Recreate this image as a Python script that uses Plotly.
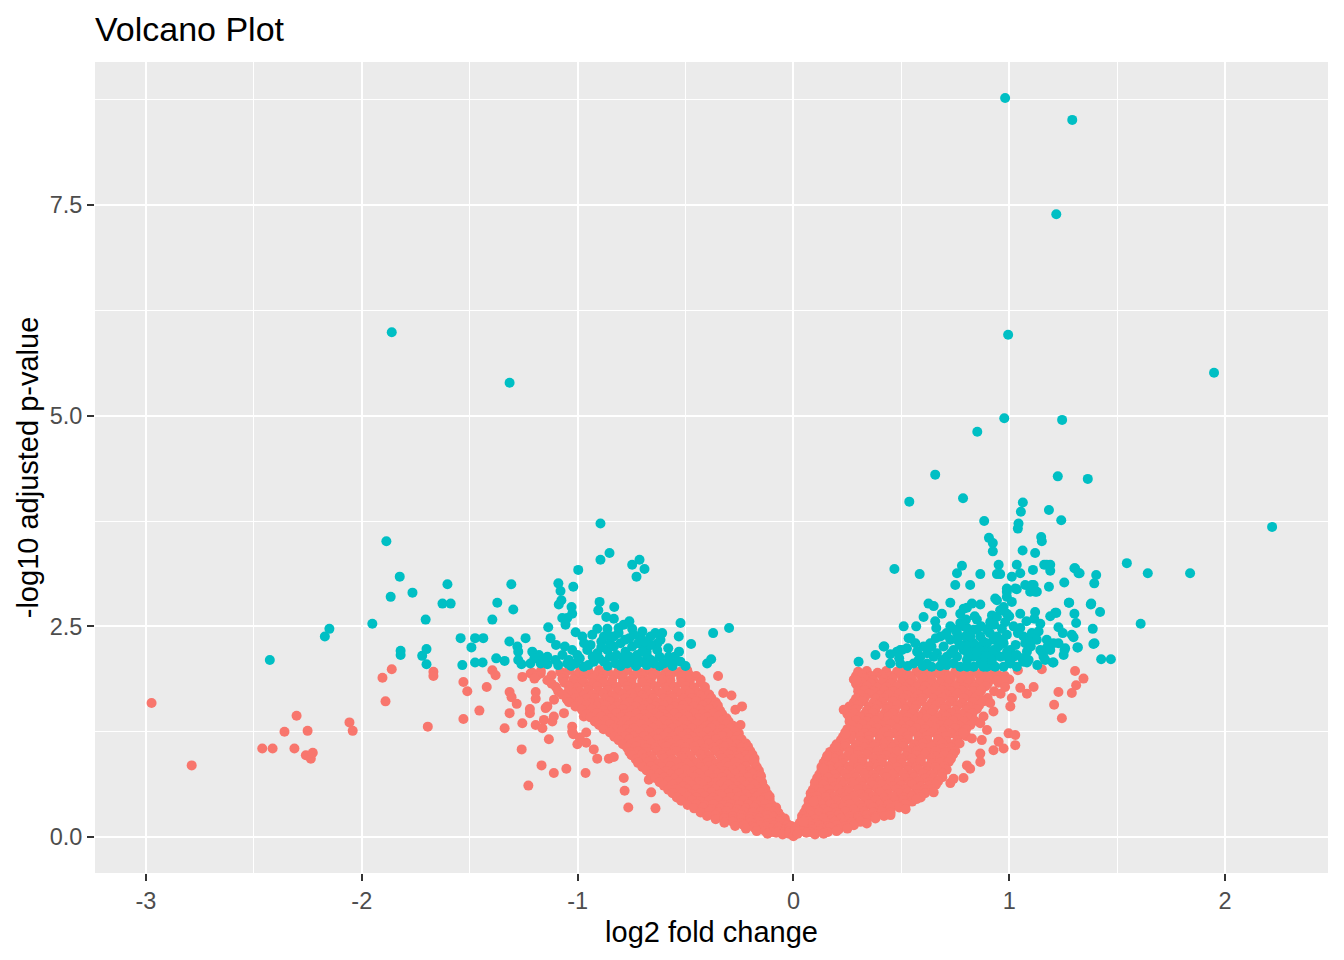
import plotly.graph_objects as go

# tick labels (ggplot prints an ascii hyphen, so the labels are given as text)
x_tick_values = [-3, -2, -1, 0, 1, 2]
x_tick_labels = ["-3", "-2", "-1", "0", "1", "2"]
y_tick_values = [0, 2.5, 5, 7.5]
y_tick_labels = ["0.0", "2.5", "5.0", "7.5"]
x_minor_values = [-2.5, -1.5, -0.5, 0.5, 1.5]
y_minor_values = [1.25, 3.75, 6.25, 8.75]

# genes with padj >= 0.01 : (log2 fold change, -log10 padj)
ns_left_outliers = [
    (-2.974, 1.59), (-2.788, 0.85), (-2.461, 1.05), (-2.413, 1.05), (-2.358, 1.25), (-2.312, 1.05),
    (-2.302, 1.44), (-2.259, 0.97), (-2.251, 1.26), (-2.236, 0.93), (-2.227, 1.00), (-2.057, 1.36),
    (-2.042, 1.26), (-1.904, 1.89), (-1.890, 1.61), (-1.861, 1.99), (-1.694, 1.31), (-1.668, 1.96),
    (-1.668, 1.91), (-1.529, 1.84), (-1.511, 1.73), (-1.529, 1.40), (-1.455, 1.50), (-1.421, 1.78),
    (-1.395, 1.98), (-1.380, 1.92), (-1.338, 1.29), (-1.315, 1.72), (-1.306, 1.66), (-1.315, 1.47),
    (-1.282, 1.58), (-1.256, 1.35), (-1.259, 1.04), (-1.256, 1.90), (-1.228, 0.61), (-1.221, 1.52),
    (-1.221, 1.47), (-1.218, 1.94), (-1.194, 1.72), (-1.194, 1.64), (-1.194, 1.33), (-1.171, 1.94),
    (-1.167, 0.85), (-1.163, 1.29), (-1.156, 1.39), (-1.148, 1.53), (-1.133, 1.16), (-1.117, 1.37),
    (-1.110, 1.43), (-1.110, 0.76), (-1.063, 1.47), (-1.052, 0.81), (-1.025, 1.31), (-1.025, 1.25),
    (-1.001, 1.10), (-0.971, 1.43), (-0.963, 0.76), (-0.960, 1.12), (-0.925, 1.52), (-0.917, 1.37),
    (-0.870, 1.43), (-0.925, 1.04), (-0.909, 0.93), (-0.855, 0.93), (-0.832, 0.95), (-0.786, 0.70),
    (-0.782, 0.55), (-0.765, 0.35), (-0.670, 0.68), (-0.659, 0.53), (-0.639, 0.34), (-0.588, 1.98),
    (-0.523, 1.96), (-0.492, 1.98), (-0.349, 1.91), (-0.325, 1.71), (-0.287, 1.68), (-0.269, 1.51),
    (-0.238, 1.55), (-0.245, 1.33), (-0.253, 1.23), (-0.261, 1.15), (-1.109, 1.63), (-1.140, 1.55),
    (-1.048, 1.63), (-0.986, 1.71), (-1.017, 1.78), (-1.020, 1.22), (-0.960, 1.24), (-0.990, 1.18),
]

ns_left_cloud = [
    (-1.21, 1.95), (-1.17, 1.97), (-1.08, 1.96), (-1.04, 1.98), (-0.99, 1.96), (-0.95, 1.97), (-0.90, 1.98),
    (-0.86, 1.96), (-0.81, 1.97), (-0.77, 1.98), (-0.72, 1.96), (-0.68, 1.97), (-0.64, 1.98), (-0.59, 1.95),
    (-0.55, 1.96), (-0.50, 1.94),
    (-1.19, 1.91), (-1.12, 1.92), (-1.06, 1.91), (-1.01, 1.92), (-0.97, 1.91), (-0.92, 1.92), (-0.88, 1.91),
    (-0.83, 1.92), (-0.79, 1.91), (-0.74, 1.92), (-0.70, 1.91), (-0.65, 1.92), (-0.61, 1.91), (-0.57, 1.92),
    (-0.52, 1.91), (-0.48, 1.92), (-0.45, 1.91),
    (-1.20, 1.88), (-1.14, 1.86), (-1.07, 1.88), (-1.02, 1.87), (-0.98, 1.86), (-0.93, 1.88), (-0.89, 1.87),
    (-0.84, 1.86), (-0.79, 1.88), (-0.75, 1.87), (-0.70, 1.86), (-0.66, 1.88), (-0.61, 1.87), (-0.57, 1.86),
    (-0.52, 1.88), (-0.48, 1.86), (-0.43, 1.87),
    (-1.12, 1.82), (-1.06, 1.83), (-1.02, 1.82), (-0.97, 1.83), (-0.93, 1.82), (-0.88, 1.83), (-0.84, 1.82),
    (-0.79, 1.83), (-0.75, 1.82), (-0.70, 1.83), (-0.66, 1.82), (-0.61, 1.83), (-0.57, 1.82), (-0.52, 1.83),
    (-0.48, 1.82), (-0.43, 1.83),
    (-1.10, 1.78), (-1.04, 1.79), (-1.00, 1.77), (-0.95, 1.78), (-0.91, 1.79), (-0.86, 1.77), (-0.82, 1.78),
    (-0.77, 1.79), (-0.73, 1.77), (-0.68, 1.78), (-0.64, 1.79), (-0.59, 1.77), (-0.55, 1.78), (-0.50, 1.79),
    (-0.46, 1.77), (-0.41, 1.78),
    (-1.09, 1.73), (-1.04, 1.74), (-0.99, 1.73), (-0.95, 1.74), (-0.90, 1.73), (-0.86, 1.74), (-0.81, 1.73),
    (-0.77, 1.74), (-0.72, 1.73), (-0.68, 1.74), (-0.63, 1.73), (-0.59, 1.74), (-0.54, 1.73), (-0.50, 1.74),
    (-0.45, 1.73), (-0.41, 1.74),
    (-1.07, 1.69), (-1.02, 1.70), (-0.97, 1.68), (-0.93, 1.69), (-0.88, 1.70), (-0.84, 1.68), (-0.79, 1.69),
    (-0.75, 1.70), (-0.70, 1.68), (-0.66, 1.69), (-0.61, 1.70), (-0.57, 1.68), (-0.52, 1.69), (-0.48, 1.70),
    (-0.43, 1.68), (-0.39, 1.69),
    (-1.05, 1.64), (-1.01, 1.65), (-0.96, 1.64), (-0.92, 1.65), (-0.87, 1.64), (-0.83, 1.65), (-0.78, 1.64),
    (-0.74, 1.65), (-0.69, 1.64), (-0.65, 1.65), (-0.60, 1.64), (-0.56, 1.65), (-0.51, 1.64), (-0.47, 1.65),
    (-0.42, 1.64), (-0.38, 1.65),
    (-1.04, 1.60), (-0.99, 1.61), (-0.94, 1.59), (-0.90, 1.60), (-0.85, 1.61), (-0.81, 1.59), (-0.76, 1.60),
    (-0.72, 1.61), (-0.67, 1.59), (-0.63, 1.60), (-0.58, 1.61), (-0.54, 1.59), (-0.49, 1.60), (-0.45, 1.61),
    (-0.40, 1.59), (-0.36, 1.60),
    (-1.01, 1.55), (-0.96, 1.56), (-0.91, 1.55), (-0.87, 1.56), (-0.82, 1.55), (-0.78, 1.56), (-0.73, 1.55),
    (-0.69, 1.56), (-0.64, 1.55), (-0.60, 1.56), (-0.55, 1.55), (-0.51, 1.56), (-0.46, 1.55), (-0.42, 1.56),
    (-0.37, 1.55), (-0.35, 1.56),
    (-0.98, 1.51), (-0.93, 1.52), (-0.88, 1.50), (-0.84, 1.51), (-0.79, 1.52), (-0.75, 1.50), (-0.70, 1.51),
    (-0.66, 1.52), (-0.61, 1.50), (-0.57, 1.51), (-0.52, 1.52), (-0.48, 1.50), (-0.43, 1.51), (-0.39, 1.52),
    (-0.34, 1.50),
    (-0.96, 1.46), (-0.91, 1.47), (-0.87, 1.46), (-0.82, 1.47), (-0.78, 1.46), (-0.73, 1.47), (-0.69, 1.46),
    (-0.64, 1.47), (-0.60, 1.46), (-0.55, 1.47), (-0.51, 1.46), (-0.46, 1.47), (-0.42, 1.46), (-0.37, 1.47),
    (-0.33, 1.46),
    (-0.94, 1.42), (-0.89, 1.43), (-0.85, 1.41), (-0.80, 1.42), (-0.76, 1.43), (-0.71, 1.41), (-0.67, 1.42),
    (-0.62, 1.43), (-0.58, 1.41), (-0.53, 1.42), (-0.49, 1.43), (-0.44, 1.41), (-0.40, 1.42), (-0.35, 1.43),
    (-0.31, 1.41),
    (-0.92, 1.37), (-0.87, 1.38), (-0.83, 1.37), (-0.78, 1.38), (-0.74, 1.37), (-0.69, 1.38), (-0.65, 1.37),
    (-0.60, 1.38), (-0.56, 1.37), (-0.51, 1.38), (-0.47, 1.37), (-0.42, 1.38), (-0.38, 1.37), (-0.33, 1.38),
    (-0.30, 1.37),
    (-0.90, 1.33), (-0.85, 1.34), (-0.80, 1.32), (-0.76, 1.33), (-0.71, 1.34), (-0.67, 1.32), (-0.63, 1.33),
    (-0.58, 1.34), (-0.54, 1.32), (-0.49, 1.33), (-0.45, 1.34), (-0.40, 1.32), (-0.36, 1.33), (-0.31, 1.34),
    (-0.28, 1.32),
    (-0.88, 1.28), (-0.83, 1.29), (-0.78, 1.28), (-0.74, 1.29), (-0.69, 1.28), (-0.65, 1.29), (-0.60, 1.28),
    (-0.56, 1.29), (-0.51, 1.28), (-0.47, 1.29), (-0.42, 1.28), (-0.38, 1.29), (-0.33, 1.28), (-0.29, 1.29),
    (-0.85, 1.24), (-0.80, 1.25), (-0.76, 1.23), (-0.71, 1.24), (-0.67, 1.25), (-0.62, 1.23), (-0.58, 1.24),
    (-0.53, 1.25), (-0.49, 1.23), (-0.44, 1.24), (-0.40, 1.25), (-0.35, 1.23), (-0.31, 1.24), (-0.27, 1.25),
    (-0.83, 1.19), (-0.78, 1.20), (-0.74, 1.19), (-0.69, 1.20), (-0.65, 1.19), (-0.60, 1.20), (-0.56, 1.19),
    (-0.51, 1.20), (-0.47, 1.19), (-0.42, 1.20), (-0.38, 1.19), (-0.33, 1.20), (-0.29, 1.19), (-0.26, 1.20),
    (-0.81, 1.15), (-0.76, 1.16), (-0.72, 1.14), (-0.67, 1.15), (-0.63, 1.16), (-0.58, 1.14), (-0.54, 1.15),
    (-0.49, 1.16), (-0.45, 1.14), (-0.40, 1.15), (-0.36, 1.16), (-0.31, 1.14), (-0.27, 1.15), (-0.24, 1.16),
    (-0.79, 1.10), (-0.75, 1.11), (-0.70, 1.10), (-0.66, 1.11), (-0.61, 1.10), (-0.57, 1.11), (-0.52, 1.10),
    (-0.48, 1.11), (-0.43, 1.10), (-0.39, 1.11), (-0.34, 1.10), (-0.30, 1.11), (-0.26, 1.10), (-0.22, 1.11),
    (-0.77, 1.06), (-0.73, 1.07), (-0.68, 1.05), (-0.64, 1.06), (-0.59, 1.07), (-0.55, 1.05), (-0.50, 1.06),
    (-0.46, 1.07), (-0.41, 1.05), (-0.37, 1.06), (-0.32, 1.07), (-0.28, 1.05), (-0.24, 1.06), (-0.21, 1.07),
    (-0.76, 1.01), (-0.72, 1.02), (-0.68, 1.01), (-0.63, 1.02), (-0.59, 1.01), (-0.54, 1.02), (-0.50, 1.01),
    (-0.45, 1.02), (-0.41, 1.01), (-0.36, 1.02), (-0.32, 1.01), (-0.28, 1.02), (-0.24, 1.01), (-0.20, 1.02),
    (-0.75, 0.97), (-0.70, 0.98), (-0.66, 0.96), (-0.61, 0.97), (-0.57, 0.98), (-0.52, 0.96), (-0.48, 0.97),
    (-0.43, 0.98), (-0.39, 0.96), (-0.34, 0.97), (-0.30, 0.98), (-0.26, 0.96), (-0.22, 0.97), (-0.19, 0.98),
    (-0.73, 0.92), (-0.69, 0.93), (-0.65, 0.92), (-0.60, 0.93), (-0.56, 0.92), (-0.51, 0.93), (-0.47, 0.92),
    (-0.42, 0.93), (-0.38, 0.92), (-0.33, 0.93), (-0.29, 0.92), (-0.25, 0.93), (-0.21, 0.92), (-0.18, 0.93),
    (-0.72, 0.88), (-0.67, 0.89), (-0.63, 0.87), (-0.58, 0.88), (-0.54, 0.89), (-0.49, 0.87), (-0.45, 0.88),
    (-0.40, 0.89), (-0.36, 0.87), (-0.31, 0.88), (-0.27, 0.89), (-0.23, 0.87), (-0.18, 0.88),
    (-0.70, 0.83), (-0.66, 0.84), (-0.61, 0.83), (-0.57, 0.84), (-0.52, 0.83), (-0.48, 0.84), (-0.43, 0.83),
    (-0.39, 0.84), (-0.34, 0.83), (-0.30, 0.84), (-0.26, 0.83), (-0.22, 0.84), (-0.17, 0.83),
    (-0.68, 0.79), (-0.64, 0.80), (-0.59, 0.78), (-0.55, 0.79), (-0.50, 0.80), (-0.46, 0.78), (-0.41, 0.79),
    (-0.37, 0.80), (-0.32, 0.78), (-0.28, 0.79), (-0.24, 0.80), (-0.20, 0.78), (-0.16, 0.79),
    (-0.66, 0.74), (-0.62, 0.75), (-0.57, 0.74), (-0.53, 0.75), (-0.48, 0.74), (-0.44, 0.75), (-0.39, 0.74),
    (-0.35, 0.75), (-0.31, 0.74), (-0.27, 0.75), (-0.23, 0.74), (-0.19, 0.75), (-0.155, 0.74),
    (-0.64, 0.70), (-0.60, 0.71), (-0.55, 0.69), (-0.51, 0.70), (-0.46, 0.71), (-0.42, 0.69), (-0.37, 0.70),
    (-0.33, 0.71), (-0.29, 0.69), (-0.25, 0.70), (-0.21, 0.71), (-0.17, 0.69), (-0.15, 0.72),
    (-0.62, 0.65), (-0.58, 0.66), (-0.53, 0.65), (-0.49, 0.66), (-0.44, 0.65), (-0.40, 0.66), (-0.36, 0.65),
    (-0.32, 0.66), (-0.28, 0.65), (-0.24, 0.66), (-0.20, 0.65), (-0.16, 0.66), (-0.145, 0.65),
    (-0.60, 0.61), (-0.56, 0.62), (-0.51, 0.60), (-0.47, 0.61), (-0.42, 0.62), (-0.38, 0.60), (-0.34, 0.61),
    (-0.30, 0.62), (-0.26, 0.60), (-0.22, 0.61), (-0.18, 0.62), (-0.14, 0.60),
    (-0.58, 0.56), (-0.54, 0.57), (-0.49, 0.56), (-0.45, 0.57), (-0.40, 0.56), (-0.36, 0.57), (-0.32, 0.56),
    (-0.28, 0.57), (-0.24, 0.56), (-0.20, 0.57), (-0.16, 0.56), (-0.13, 0.57),
    (-0.56, 0.52), (-0.51, 0.53), (-0.47, 0.51), (-0.43, 0.52), (-0.38, 0.53), (-0.34, 0.51), (-0.30, 0.52),
    (-0.26, 0.53), (-0.22, 0.51), (-0.18, 0.52), (-0.15, 0.53), (-0.12, 0.51),
    (-0.54, 0.47), (-0.49, 0.48), (-0.45, 0.47), (-0.41, 0.48), (-0.37, 0.47), (-0.33, 0.48), (-0.29, 0.47),
    (-0.25, 0.48), (-0.21, 0.47), (-0.17, 0.48), (-0.13, 0.47), (-0.11, 0.48),
    (-0.52, 0.43), (-0.47, 0.44), (-0.43, 0.42), (-0.39, 0.43), (-0.35, 0.44), (-0.31, 0.42), (-0.27, 0.43),
    (-0.23, 0.44), (-0.19, 0.42), (-0.15, 0.43), (-0.11, 0.44),
    (-0.49, 0.38), (-0.45, 0.39), (-0.41, 0.38), (-0.37, 0.39), (-0.33, 0.38), (-0.29, 0.39), (-0.25, 0.38),
    (-0.21, 0.39), (-0.17, 0.38), (-0.13, 0.39), (-0.10, 0.38),
    (-0.46, 0.34), (-0.42, 0.35), (-0.38, 0.33), (-0.34, 0.34), (-0.30, 0.35), (-0.26, 0.33), (-0.22, 0.34),
    (-0.18, 0.35), (-0.14, 0.33), (-0.11, 0.34), (-0.08, 0.35),
    (-0.43, 0.29), (-0.39, 0.30), (-0.35, 0.29), (-0.31, 0.30), (-0.27, 0.29), (-0.23, 0.30), (-0.19, 0.29),
    (-0.15, 0.30), (-0.12, 0.29), (-0.09, 0.30), (-0.07, 0.29),
    (-0.40, 0.25), (-0.36, 0.26), (-0.32, 0.24), (-0.28, 0.25), (-0.24, 0.26), (-0.20, 0.24), (-0.16, 0.25),
    (-0.12, 0.26), (-0.09, 0.24), (-0.06, 0.25),
    (-0.36, 0.21), (-0.32, 0.22), (-0.28, 0.21), (-0.24, 0.22), (-0.20, 0.21), (-0.16, 0.22), (-0.12, 0.21),
    (-0.09, 0.22), (-0.06, 0.21), (-0.04, 0.22),
    (-0.32, 0.17), (-0.28, 0.18), (-0.24, 0.16), (-0.20, 0.17), (-0.16, 0.18), (-0.12, 0.16), (-0.09, 0.17),
    (-0.06, 0.18), (-0.03, 0.16),
    (-0.27, 0.13), (-0.23, 0.14), (-0.19, 0.13), (-0.16, 0.14), (-0.12, 0.13), (-0.09, 0.14), (-0.06, 0.13),
    (-0.03, 0.14), (-0.01, 0.13),
    (-0.22, 0.10), (-0.18, 0.11), (-0.14, 0.09), (-0.10, 0.10), (-0.07, 0.11), (-0.04, 0.09), (-0.02, 0.10),
    (-0.17, 0.07), (-0.13, 0.07), (-0.10, 0.06), (-0.07, 0.07), (-0.04, 0.06), (-0.02, 0.07), (0.00, 0.06),
    (-0.12, 0.04), (-0.08, 0.05), (-0.05, 0.03), (-0.02, 0.04), (0.00, 0.01),
]

ns_right_cloud = [
    (0.30, 1.96), (0.34, 1.97), (0.39, 1.95), (0.43, 1.97), (0.48, 1.96), (0.52, 1.98), (0.57, 1.96),
    (0.61, 1.97), (0.66, 1.95), (0.70, 1.97), (0.75, 1.96), (0.79, 1.98), (0.84, 1.96), (0.88, 1.97),
    (0.93, 1.95),
    (0.29, 1.91), (0.32, 1.92), (0.36, 1.91), (0.41, 1.92), (0.45, 1.91), (0.50, 1.92), (0.54, 1.91),
    (0.59, 1.92), (0.63, 1.91), (0.68, 1.92), (0.72, 1.91), (0.77, 1.92), (0.81, 1.91), (0.86, 1.92),
    (0.90, 1.91), (0.95, 1.92), (0.98, 1.91),
    (0.28, 1.87), (0.33, 1.88), (0.37, 1.86), (0.42, 1.87), (0.46, 1.88), (0.51, 1.86), (0.55, 1.87),
    (0.60, 1.88), (0.64, 1.86), (0.69, 1.87), (0.73, 1.88), (0.78, 1.86), (0.82, 1.87), (0.87, 1.88),
    (0.91, 1.86), (1.00, 1.87),
    (0.29, 1.82), (0.32, 1.83), (0.36, 1.82), (0.41, 1.83), (0.45, 1.82), (0.50, 1.83), (0.54, 1.82),
    (0.59, 1.83), (0.63, 1.82), (0.68, 1.83), (0.72, 1.82), (0.77, 1.83), (0.81, 1.82), (0.86, 1.83),
    (0.90, 1.82), (0.95, 1.83),
    (0.30, 1.78), (0.34, 1.79), (0.39, 1.77), (0.43, 1.78), (0.48, 1.79), (0.52, 1.77), (0.57, 1.78),
    (0.61, 1.79), (0.66, 1.77), (0.70, 1.78), (0.75, 1.79), (0.79, 1.77), (0.84, 1.78), (0.89, 1.79),
    (0.30, 1.73), (0.33, 1.74), (0.37, 1.73), (0.42, 1.74), (0.46, 1.73), (0.51, 1.74), (0.55, 1.73),
    (0.60, 1.74), (0.64, 1.73), (0.69, 1.74), (0.73, 1.73), (0.78, 1.74), (0.83, 1.73), (0.87, 1.74),
    (0.93, 1.73),
    (0.31, 1.69), (0.35, 1.70), (0.40, 1.68), (0.44, 1.69), (0.49, 1.70), (0.53, 1.68), (0.58, 1.69),
    (0.62, 1.70), (0.67, 1.68), (0.71, 1.69), (0.76, 1.70), (0.81, 1.68), (0.86, 1.69), (0.96, 1.70),
    (0.29, 1.64), (0.33, 1.65), (0.38, 1.64), (0.42, 1.65), (0.47, 1.64), (0.51, 1.65), (0.56, 1.64),
    (0.60, 1.65), (0.65, 1.64), (0.69, 1.65), (0.74, 1.64), (0.79, 1.65), (0.84, 1.64), (0.90, 1.65),
    (0.28, 1.60), (0.32, 1.61), (0.37, 1.59), (0.41, 1.60), (0.46, 1.61), (0.50, 1.59), (0.55, 1.60),
    (0.59, 1.61), (0.64, 1.59), (0.68, 1.60), (0.73, 1.61), (0.78, 1.59), (0.83, 1.60), (0.88, 1.61),
    (0.26, 1.55), (0.30, 1.56), (0.35, 1.55), (0.39, 1.56), (0.44, 1.55), (0.48, 1.56), (0.53, 1.55),
    (0.57, 1.56), (0.62, 1.55), (0.66, 1.56), (0.71, 1.55), (0.76, 1.56), (0.81, 1.55), (0.86, 1.56),
    (0.25, 1.51), (0.29, 1.52), (0.34, 1.50), (0.38, 1.51), (0.43, 1.52), (0.47, 1.50), (0.52, 1.51),
    (0.56, 1.52), (0.61, 1.50), (0.65, 1.51), (0.70, 1.52), (0.75, 1.50), (0.80, 1.51), (0.85, 1.52),
    (0.25, 1.46), (0.28, 1.47), (0.33, 1.46), (0.37, 1.47), (0.42, 1.46), (0.46, 1.47), (0.51, 1.46),
    (0.55, 1.47), (0.60, 1.46), (0.64, 1.47), (0.69, 1.46), (0.73, 1.47), (0.78, 1.46), (0.83, 1.47),
    (0.26, 1.42), (0.31, 1.43), (0.35, 1.41), (0.40, 1.42), (0.44, 1.43), (0.49, 1.41), (0.53, 1.42),
    (0.58, 1.43), (0.62, 1.41), (0.67, 1.42), (0.71, 1.43), (0.76, 1.41), (0.81, 1.42),
    (0.26, 1.37), (0.29, 1.38), (0.34, 1.37), (0.38, 1.38), (0.43, 1.37), (0.47, 1.38), (0.52, 1.37),
    (0.56, 1.38), (0.61, 1.37), (0.65, 1.38), (0.70, 1.37), (0.74, 1.38), (0.79, 1.37), (0.84, 1.38),
    (0.27, 1.33), (0.32, 1.34), (0.36, 1.32), (0.41, 1.33), (0.45, 1.34), (0.50, 1.32), (0.54, 1.33),
    (0.59, 1.34), (0.63, 1.32), (0.68, 1.33), (0.72, 1.34), (0.77, 1.32), (0.82, 1.33),
    (0.25, 1.28), (0.30, 1.29), (0.34, 1.28), (0.39, 1.29), (0.43, 1.28), (0.48, 1.29), (0.52, 1.28),
    (0.57, 1.29), (0.61, 1.28), (0.66, 1.29), (0.70, 1.28), (0.75, 1.29), (0.80, 1.28),
    (0.24, 1.24), (0.28, 1.25), (0.33, 1.23), (0.37, 1.24), (0.42, 1.25), (0.46, 1.23), (0.51, 1.24),
    (0.55, 1.25), (0.60, 1.23), (0.64, 1.24), (0.69, 1.25), (0.73, 1.23), (0.78, 1.24),
    (0.23, 1.19), (0.27, 1.20), (0.31, 1.19), (0.35, 1.20), (0.40, 1.19), (0.44, 1.20), (0.49, 1.19),
    (0.53, 1.20), (0.58, 1.19), (0.62, 1.20), (0.67, 1.19), (0.71, 1.20), (0.76, 1.19), (0.80, 1.20),
    (0.22, 1.15), (0.26, 1.16), (0.31, 1.14), (0.35, 1.15), (0.40, 1.16), (0.44, 1.14), (0.49, 1.15),
    (0.53, 1.16), (0.58, 1.14), (0.62, 1.15), (0.67, 1.16), (0.71, 1.14), (0.76, 1.15),
    (0.20, 1.10), (0.24, 1.11), (0.29, 1.10), (0.33, 1.11), (0.38, 1.10), (0.42, 1.11), (0.47, 1.10),
    (0.51, 1.11), (0.56, 1.10), (0.60, 1.11), (0.65, 1.10), (0.69, 1.11), (0.74, 1.10), (0.77, 1.11),
    (0.19, 1.06), (0.24, 1.07), (0.28, 1.05), (0.33, 1.06), (0.37, 1.07), (0.42, 1.05), (0.46, 1.06),
    (0.51, 1.07), (0.55, 1.05), (0.60, 1.06), (0.64, 1.07), (0.69, 1.05), (0.73, 1.06),
    (0.17, 1.01), (0.21, 1.02), (0.26, 1.01), (0.30, 1.02), (0.35, 1.01), (0.39, 1.02), (0.44, 1.01),
    (0.48, 1.02), (0.53, 1.01), (0.57, 1.02), (0.62, 1.01), (0.66, 1.02), (0.71, 1.01), (0.75, 1.02),
    (0.16, 0.97), (0.21, 0.98), (0.25, 0.96), (0.30, 0.97), (0.34, 0.98), (0.39, 0.96), (0.43, 0.97),
    (0.48, 0.98), (0.52, 0.96), (0.57, 0.97), (0.61, 0.98), (0.66, 0.96), (0.70, 0.97), (0.74, 0.98),
    (0.15, 0.92), (0.19, 0.93), (0.23, 0.92), (0.28, 0.93), (0.32, 0.92), (0.37, 0.93), (0.41, 0.92),
    (0.46, 0.93), (0.50, 0.92), (0.55, 0.93), (0.59, 0.92), (0.64, 0.93), (0.68, 0.92), (0.73, 0.93),
    (0.14, 0.88), (0.19, 0.89), (0.23, 0.87), (0.28, 0.88), (0.32, 0.89), (0.37, 0.87), (0.41, 0.88),
    (0.46, 0.89), (0.50, 0.87), (0.55, 0.88), (0.59, 0.89), (0.64, 0.87), (0.68, 0.88), (0.72, 0.89),
    (0.13, 0.83), (0.17, 0.84), (0.21, 0.83), (0.26, 0.84), (0.30, 0.83), (0.35, 0.84), (0.39, 0.83),
    (0.44, 0.84), (0.48, 0.83), (0.53, 0.84), (0.57, 0.83), (0.62, 0.84), (0.66, 0.83), (0.70, 0.84),
    (0.13, 0.79), (0.17, 0.80), (0.22, 0.78), (0.26, 0.79), (0.31, 0.80), (0.35, 0.78), (0.40, 0.79),
    (0.44, 0.80), (0.49, 0.78), (0.53, 0.79), (0.58, 0.80), (0.62, 0.78), (0.67, 0.79), (0.71, 0.80),
    (0.12, 0.74), (0.15, 0.75), (0.19, 0.74), (0.24, 0.75), (0.28, 0.74), (0.33, 0.75), (0.37, 0.74),
    (0.42, 0.75), (0.46, 0.74), (0.51, 0.75), (0.55, 0.74), (0.60, 0.75), (0.64, 0.74), (0.69, 0.75),
    (0.11, 0.70), (0.16, 0.71), (0.20, 0.69), (0.25, 0.70), (0.29, 0.71), (0.34, 0.69), (0.38, 0.70),
    (0.43, 0.71), (0.47, 0.69), (0.52, 0.70), (0.56, 0.71), (0.61, 0.69), (0.65, 0.70), (0.69, 0.71),
    (0.10, 0.65), (0.14, 0.66), (0.18, 0.65), (0.22, 0.66), (0.27, 0.65), (0.31, 0.66), (0.36, 0.65),
    (0.40, 0.66), (0.45, 0.65), (0.49, 0.66), (0.54, 0.65), (0.58, 0.66), (0.63, 0.65), (0.67, 0.66),
    (0.10, 0.61), (0.14, 0.62), (0.19, 0.60), (0.23, 0.61), (0.28, 0.62), (0.32, 0.60), (0.37, 0.61),
    (0.41, 0.62), (0.46, 0.60), (0.50, 0.61), (0.55, 0.62), (0.59, 0.60), (0.63, 0.61), (0.66, 0.62),
    (0.09, 0.56), (0.12, 0.57), (0.16, 0.56), (0.21, 0.57), (0.25, 0.56), (0.30, 0.57), (0.34, 0.56),
    (0.39, 0.57), (0.43, 0.56), (0.48, 0.57), (0.52, 0.56), (0.57, 0.57), (0.61, 0.56), (0.64, 0.57),
    (0.08, 0.52), (0.13, 0.53), (0.17, 0.51), (0.22, 0.52), (0.26, 0.53), (0.31, 0.51), (0.35, 0.52),
    (0.40, 0.53), (0.44, 0.51), (0.49, 0.52), (0.53, 0.53), (0.57, 0.51), (0.61, 0.52), (0.65, 0.53),
    (0.08, 0.47), (0.11, 0.48), (0.15, 0.47), (0.19, 0.48), (0.24, 0.47), (0.28, 0.48), (0.33, 0.47),
    (0.37, 0.48), (0.42, 0.47), (0.46, 0.48), (0.51, 0.47), (0.55, 0.48), (0.59, 0.47),
    (0.07, 0.43), (0.11, 0.44), (0.16, 0.42), (0.20, 0.43), (0.25, 0.44), (0.29, 0.42), (0.34, 0.43),
    (0.38, 0.44), (0.43, 0.42), (0.47, 0.43), (0.51, 0.44), (0.55, 0.42), (0.57, 0.45),
    (0.07, 0.38), (0.09, 0.39), (0.13, 0.38), (0.17, 0.39), (0.22, 0.38), (0.26, 0.39), (0.31, 0.38),
    (0.35, 0.39), (0.40, 0.38), (0.44, 0.39), (0.48, 0.38), (0.52, 0.39),
    (0.06, 0.34), (0.10, 0.35), (0.14, 0.33), (0.19, 0.34), (0.23, 0.35), (0.28, 0.33), (0.32, 0.34),
    (0.37, 0.35), (0.41, 0.33), (0.45, 0.34), (0.49, 0.35), (0.52, 0.33),
    (0.05, 0.29), (0.08, 0.30), (0.12, 0.29), (0.16, 0.30), (0.20, 0.29), (0.24, 0.30), (0.29, 0.29),
    (0.33, 0.30), (0.37, 0.29), (0.41, 0.30), (0.45, 0.29),
    (0.04, 0.25), (0.08, 0.26), (0.12, 0.24), (0.17, 0.25), (0.21, 0.26), (0.26, 0.24), (0.30, 0.25),
    (0.34, 0.26), (0.38, 0.24), (0.42, 0.25), (0.45, 0.26),
    (0.04, 0.21), (0.06, 0.22), (0.10, 0.21), (0.14, 0.22), (0.18, 0.21), (0.22, 0.22), (0.26, 0.21),
    (0.30, 0.22), (0.34, 0.21), (0.38, 0.22),
    (0.03, 0.17), (0.07, 0.18), (0.11, 0.16), (0.15, 0.17), (0.19, 0.18), (0.23, 0.16), (0.27, 0.17),
    (0.31, 0.18), (0.34, 0.16),
    (0.02, 0.13), (0.04, 0.14), (0.08, 0.13), (0.12, 0.14), (0.16, 0.13), (0.20, 0.14), (0.24, 0.13),
    (0.28, 0.14),
    (0.01, 0.10), (0.05, 0.11), (0.09, 0.09), (0.13, 0.10), (0.17, 0.11), (0.21, 0.09), (0.25, 0.10),
    (0.01, 0.07), (0.04, 0.07), (0.08, 0.06), (0.12, 0.07), (0.16, 0.06), (0.20, 0.07),
    (0.02, 0.04), (0.06, 0.05), (0.10, 0.03), (0.14, 0.04),
]

ns_right_outliers = [
    (0.292, 1.86), (0.233, 1.51), (0.241, 1.22), (0.197, 1.07), (0.156, 0.96), (0.140, 0.81),
    (0.094, 0.42), (0.048, 0.18), (0.727, 0.64), (0.788, 0.70), (0.804, 0.85), (0.866, 0.99),
    (0.866, 0.89), (0.819, 0.81), (0.742, 0.69), (0.951, 1.13), (0.997, 1.23), (1.028, 1.21),
    (1.028, 1.09), (0.974, 1.05), (0.927, 1.03), (0.788, 1.23), (0.827, 1.17), (0.873, 1.15),
    (1.244, 1.41), (1.208, 1.57), (1.228, 1.72), (1.290, 1.71), (1.310, 1.80), (1.344, 1.88),
    (1.305, 1.97), (1.151, 1.99), (1.113, 1.78), (1.082, 1.70), (1.051, 1.77), (1.040, 1.98),
    (1.012, 1.65), (1.005, 1.55), (0.912, 1.59), (0.927, 1.49), (0.881, 1.43), (0.866, 1.35),
    (0.897, 1.27), (0.974, 1.86), (0.981, 1.78), (0.943, 1.86),
]

# genes with padj < 0.01
sig_left = [
    (-2.426, 2.10), (-2.171, 2.38), (-2.150, 2.47), (-1.951, 2.53), (-1.886, 3.51), (-1.866, 2.85),
    (-1.824, 3.09), (-1.820, 2.21), (-1.820, 2.16), (-1.765, 2.90), (-1.704, 2.58), (-1.700, 2.23),
    (-1.720, 2.15), (-1.700, 2.05), (-1.603, 3.00), (-1.626, 2.77), (-1.588, 2.77), (-1.861, 5.99),
    (-1.315, 5.39), (-1.542, 2.36), (-1.475, 2.36), (-1.437, 2.36), (-1.492, 2.25), (-1.534, 2.04),
    (-1.475, 2.07), (-1.440, 2.07), (-1.372, 2.78), (-1.307, 3.00), (-1.298, 2.70), (-1.395, 2.58),
    (-1.377, 2.12), (-1.338, 2.09), (-1.316, 2.32), (-1.279, 2.26), (-1.275, 2.20), (-1.275, 2.10),
    (-1.241, 2.36), (-1.219, 2.06), (-1.210, 2.20), (-1.179, 2.16), (-1.171, 2.06), (-1.136, 2.49),
    (-1.125, 2.36), (-1.089, 3.01), (-1.079, 2.92), (-1.075, 2.81), (-1.087, 2.76), (-1.020, 2.97),
    (-0.997, 3.17), (-1.028, 2.73), (-1.025, 2.65), (-1.071, 2.60), (-1.056, 2.52), (-1.048, 2.60),
    (-1.009, 2.43), (-0.978, 2.38), (-1.059, 2.26), (-1.025, 2.22), (-1.001, 2.16), (-1.102, 2.10),
    (-1.140, 2.05), (-1.048, 2.06), (-1.009, 2.06), (-0.971, 2.02), (-0.894, 3.72), (-0.852, 3.37),
    (-0.894, 3.29), (-0.747, 3.23), (-0.713, 3.29), (-0.690, 3.18), (-0.727, 3.09), (-0.898, 2.79),
    (-0.904, 2.69), (-0.830, 2.73), (-0.867, 2.61), (-0.832, 2.59), (-0.909, 2.47), (-0.862, 2.47),
    (-0.932, 2.40), (-0.878, 2.38), (-0.832, 2.38), (-0.786, 2.52), (-0.747, 2.47), (-0.708, 2.38),
    (-0.662, 2.38), (-0.801, 2.30), (-0.747, 2.26), (-0.693, 2.26), (-0.955, 2.22), (-0.909, 2.18),
    (-0.862, 2.22), (-0.832, 2.26), (-0.778, 2.20), (-0.724, 2.16), (-0.677, 2.14), (-0.631, 2.22),
    (-0.608, 2.42), (-0.616, 2.34), (-0.577, 2.14), (-0.925, 2.08), (-0.878, 2.08), (-0.824, 2.06),
    (-0.770, 2.06), (-0.708, 2.08), (-0.647, 2.06), (-0.600, 2.06), (-0.554, 2.08), (-0.523, 2.08),
    (-0.531, 2.38), (-0.523, 2.54), (-0.474, 2.29), (-0.372, 2.42), (-0.298, 2.48), (-0.400, 2.06),
    (-0.381, 2.11), (-0.890, 2.32), (-0.850, 2.14), (-0.810, 2.42), (-0.760, 2.36), (-0.720, 2.30),
    (-0.680, 2.20), (-0.790, 2.12), (-0.740, 2.10), (-0.940, 2.28), (-0.990, 2.12), (-0.660, 2.10),
    (-0.700, 2.44), (-0.760, 2.56), (-0.630, 2.30), (-0.580, 2.24), (-1.140, 2.14), (-1.100, 2.28),
    (-1.200, 2.12), (-0.950, 2.04), (-0.860, 2.03), (-0.800, 2.03), (-0.730, 2.03), (-0.680, 2.04),
    (-0.620, 2.03), (-0.560, 2.03), (-0.500, 2.03), (-1.030, 2.03), (-1.090, 2.04), (-1.160, 2.10),
    (-1.260, 2.05), (-0.970, 2.30), (-0.930, 2.14), (-0.890, 2.25), (-0.850, 2.30), (-0.820, 2.16),
    (-0.780, 2.34), (-0.740, 2.40), (-0.700, 2.20), (-0.660, 2.28), (-0.620, 2.14), (-0.580, 2.08),
    (-0.810, 2.48), (-0.860, 2.40), (-0.900, 2.12), (-0.760, 2.14), (-0.720, 2.06), (-0.640, 2.42),
    (-0.690, 2.32), (-1.040, 2.10), (-1.070, 2.16), (-0.550, 2.14), (-0.530, 2.20),
]

sig_right = [
    (0.981, 8.77), (1.292, 8.51), (1.218, 7.39), (0.995, 5.96), (0.977, 4.97), (1.245, 4.95),
    (0.852, 4.81), (1.949, 5.51), (2.218, 3.68), (0.657, 4.30), (0.537, 3.98), (0.786, 4.02),
    (1.225, 4.28), (1.364, 4.25), (1.063, 3.97), (1.054, 3.86), (1.184, 3.88), (1.241, 3.76),
    (0.884, 3.75), (1.043, 3.72), (1.040, 3.66), (0.906, 3.55), (0.924, 3.49), (0.924, 3.39),
    (1.148, 3.56), (1.151, 3.51), (1.062, 3.40), (1.120, 3.37), (0.468, 3.18), (0.585, 3.12),
    (0.781, 3.22), (0.758, 3.13), (0.750, 2.99), (0.819, 2.99), (0.866, 3.12), (0.951, 3.23),
    (0.943, 3.12), (0.958, 3.12), (1.035, 3.23), (1.012, 3.09), (1.051, 3.13), (1.110, 3.17),
    (1.162, 3.23), (1.190, 3.23), (1.190, 3.16), (1.302, 3.19), (1.321, 3.13), (1.403, 3.11),
    (1.394, 3.01), (1.255, 3.02), (1.184, 2.97), (1.113, 2.99), (1.097, 2.91), (1.128, 2.91),
    (1.035, 2.94), (0.989, 2.95), (0.989, 2.85), (1.012, 2.79), (0.943, 2.81), (1.276, 2.78),
    (1.378, 2.76), (1.421, 2.67), (1.302, 2.65), (1.310, 2.54), (1.213, 2.66), (1.190, 2.62),
    (1.120, 2.67), (1.116, 2.59), (1.144, 2.53), (1.051, 2.65), (1.228, 2.49), (1.248, 2.42),
    (1.290, 2.40), (1.387, 2.47), (1.395, 2.30), (1.316, 2.25), (1.426, 2.11), (1.471, 2.11),
    (1.228, 2.30), (1.256, 2.22), (1.252, 2.16), (1.174, 2.24), (1.151, 2.20), (1.205, 2.07),
    (1.167, 2.10), (1.082, 2.07), (1.035, 2.16), (0.997, 2.12), (1.005, 2.06), (1.545, 3.25),
    (1.642, 3.13), (1.838, 3.13), (1.609, 2.53), (1.174, 3.23), (1.305, 3.19), (1.326, 3.13),
    (1.278, 2.78), (1.380, 2.77), (1.218, 2.66), (1.298, 2.37), (1.259, 2.24), (1.318, 2.25),
    (1.390, 2.29), (1.177, 2.25), (1.202, 2.07), (0.935, 2.83), (0.974, 2.73), (0.989, 2.65),
    (0.981, 2.55), (0.966, 2.47), (0.989, 2.40), (0.974, 2.30), (1.005, 2.22), (1.020, 2.14),
    (0.943, 2.38), (0.920, 2.63), (0.912, 2.55), (0.928, 2.34), (0.897, 2.30), (0.912, 2.20),
    (0.881, 2.22), (0.866, 2.14), (0.904, 2.10), (0.943, 2.16), (0.935, 2.02), (0.897, 2.02),
    (0.866, 2.06), (0.835, 2.14), (0.819, 2.22), (0.804, 2.30), (0.796, 2.38), (0.789, 2.50),
    (0.850, 2.58), (0.835, 2.46), (0.866, 2.38), (0.758, 2.42), (0.727, 2.34), (0.742, 2.22),
    (0.711, 2.14), (0.727, 2.50), (0.681, 2.38), (0.696, 2.26), (0.665, 2.18), (0.634, 2.30),
    (0.650, 2.14), (0.619, 2.06), (0.588, 2.14), (0.603, 2.26), (0.573, 2.20), (0.565, 2.30),
    (0.542, 2.36), (0.526, 2.24), (0.557, 2.06), (0.495, 2.06), (0.449, 2.06), (0.480, 2.20),
    (0.503, 2.22), (0.418, 2.26), (0.380, 2.16), (0.302, 2.08), (0.511, 2.50), (0.569, 2.50),
    (0.603, 2.61), (0.657, 2.56), (0.662, 2.48), (0.626, 2.77), (0.650, 2.74), (0.688, 2.65),
    (0.727, 2.78), (0.804, 2.72), (0.827, 2.77), (0.866, 2.76), (0.804, 2.48), (0.773, 2.54),
    (0.850, 2.46), (0.897, 2.46), (1.051, 2.48), (1.066, 2.38), (1.074, 2.30), (1.082, 2.20),
    (1.097, 2.34), (1.105, 2.42), (1.136, 2.44), (1.128, 2.34), (1.144, 2.22), (1.159, 2.14),
    (1.190, 2.22), (1.205, 2.30), (1.174, 2.34), (0.742, 2.06), (0.773, 2.02), (0.804, 2.02),
    (0.835, 2.02), (0.881, 2.02), (0.928, 2.03), (0.974, 2.02), (1.005, 2.08), (1.035, 2.02),
    (1.066, 2.08), (0.773, 2.65), (0.789, 2.71), (0.704, 2.40), (0.758, 2.14), (0.789, 2.22),
    (0.804, 2.10), (0.835, 2.30), (0.866, 2.26), (0.928, 2.22), (0.958, 2.30), (0.943, 2.61),
    (0.958, 2.69), (0.989, 2.91), (1.028, 2.95), (1.074, 2.99), (1.105, 2.99), (1.120, 2.91),
    (0.421, 2.26), (0.449, 2.17), (0.495, 2.22), (0.534, 2.36), (0.600, 2.03), (0.640, 2.02),
    (0.680, 2.03), (0.710, 2.04), (0.530, 2.03), (0.490, 2.12), (0.580, 2.10), (0.620, 2.18),
    (0.690, 2.10), (0.730, 2.18), (0.770, 2.28), (0.810, 2.16), (0.850, 2.20), (0.890, 2.14),
    (0.920, 2.10), (0.960, 2.14), (0.950, 2.26), (0.910, 2.42), (0.870, 2.50), (0.820, 2.38),
    (0.760, 2.34), (0.710, 2.42), (0.660, 2.36), (0.640, 2.26), (0.990, 2.20), (1.030, 2.28),
    (1.060, 2.12), (1.100, 2.26), (1.130, 2.04), (1.090, 2.10), (1.020, 2.50), (1.000, 2.62),
    (0.970, 2.34), (1.040, 2.42), (0.930, 2.52), (0.840, 2.62), (0.880, 2.32), (0.800, 2.58),
    (0.750, 2.46), (1.080, 2.56),
]

not_significant = ns_left_outliers + ns_left_cloud + ns_right_cloud + ns_right_outliers
significant = sig_left + sig_right

fig = go.Figure()
fig.add_trace(go.Scatter(
    x=[p[0] for p in not_significant], y=[p[1] for p in not_significant],
    mode="markers", name="padj >= 0.01",
    marker=dict(color="#F8766D", size=10, line=dict(width=0)),
))
fig.add_trace(go.Scatter(
    x=[p[0] for p in significant], y=[p[1] for p in significant],
    mode="markers", name="padj < 0.01",
    marker=dict(color="#00BFC4", size=10, line=dict(width=0)),
))

fig.update_layout(
    width=1344, height=960,
    margin=dict(l=95, r=16, t=62, b=87),
    paper_bgcolor="white", plot_bgcolor="#EBEBEB",
    showlegend=False,
    font=dict(family="Arial, Liberation Sans, sans-serif", color="black"),
    title=dict(text="Volcano Plot", x=95 / 1344, xanchor="left", xref="container",
               y=1 - 29 / 960, yanchor="middle", yref="container",
               font=dict(size=34, color="black")),
)
axis_style = dict(
    showgrid=True, gridcolor="white", gridwidth=1.5, zeroline=False, showline=False,
    ticks="outside", ticklen=7, tickwidth=1.5, tickcolor="#333333",
    tickfont=dict(size=23.5, color="#4D4D4D"),
)
fig.update_xaxes(
    range=[-3.236, 2.477], tickvals=x_tick_values, ticktext=x_tick_labels,
    minor=dict(tickvals=x_minor_values, showgrid=True, gridcolor="white", gridwidth=0.75, ticks=""),
    title=dict(text="log2 fold change", font=dict(size=29, color="black"), standoff=8),
    **axis_style,
)
fig.update_yaxes(
    range=[-0.427, 9.197], tickvals=y_tick_values, ticktext=y_tick_labels,
    minor=dict(tickvals=y_minor_values, showgrid=True, gridcolor="white", gridwidth=0.75, ticks=""),
    title=dict(text="-log10 adjusted p-value", font=dict(size=29, color="black"), standoff=2),
    **axis_style,
)

# the page has a default 8px body margin; drop it so the figure sits at the window corner
fig.write_html("out.html", config={"displayModeBar": False},
               post_script="document.body.style.margin = '0px';")
